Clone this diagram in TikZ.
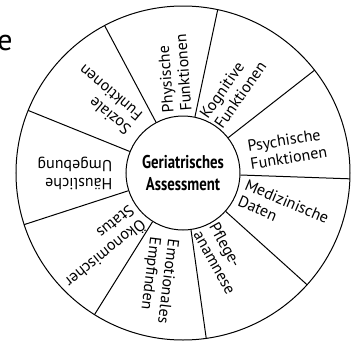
\documentclass[tikz,border=0pt]{standalone}
\usepackage{fontspec}
\setmainfont{PT Sans}
\newfontfamily\condfont[FakeStretch=0.8]{PT Sans}
\usetikzlibrary{shapes,positioning,calc}

\begin{document}
\begin{tikzpicture}[x=1pt, y=1pt, line width=1pt]

%local definitions
\tikzstyle{Sector} = [align=left, inner sep=0pt, font=\fontsize{16}{18}\selectfont]
\tikzstyle{Hub} = [draw, circle, minimum size=114pt, inner sep=0pt, align=center, font=\condfont\bfseries\fontsize{18.5}{22}\selectfont]

\useasboundingbox (-183,-168) rectangle (168,173);

%wheel
	\node [Hub] (GerAssessment) {Geriatrisches\\Assessment};
	\draw (0,0) circle (167);
	\foreach \a in {118,78,...,-202}
		\draw (GerAssessment.\a) -- (\a:167);

%sector labels
	\node [Sector, rotate=94] (physFunc) at (95:100) {Physische\\Funktionen};
	\node [Sector, rotate=55] (kognFunc) at (59:97) {Kognitive\\Funktionen};
	\node [Sector, rotate=9] (psychFunc) at (13:107) {Psychische\\Funktionen};
	\node [Sector, rotate=-23] (medDaten) at (-20:107) {Medizinische\\Daten};
	\node [Sector, rotate=-61] (pflegeAnam) at (-65:94) {Pflege-\\anamnese};
	\node [Sector, rotate=-97] (emoEmpf) at (-103:110) {Emotionales\\Empfinden};
	\node [Sector, rotate=-141] (oekStatus) at (-138:111) {Ökonomischer\\Status};
	\node [Sector, rotate=180] (haeusUmg) at (180:108) {Häusliche\\Umgebung};
	\node [Sector, rotate=140] (sozFunc) at (137:107) {Soziale\\Funktionen};

%cut letter
	\node [anchor=base east, inner sep=0pt, font=\fontsize{30}{30}\selectfont] (cutLetter) at (-170,123) {e};

\end{tikzpicture}
\end{document}
